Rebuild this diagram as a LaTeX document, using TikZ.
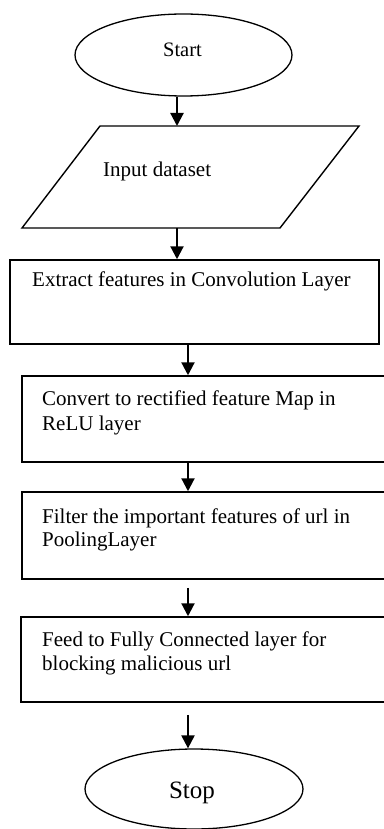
\documentclass[tikz,border=0pt]{standalone}
\usepackage{fontspec}
\setmainfont{Liberation Serif}
\usetikzlibrary{arrows.meta,shapes.geometric}

\begin{document}
\begin{tikzpicture}[x=1pt,y=-1pt,
  flowline/.style={line width=1.4pt},
  stepbox/.style={draw,rectangle,line width=1.5pt,inner sep=0pt},
  terminal/.style={draw,ellipse,line width=1.3pt,inner sep=0pt},
  arr/.style={line width=2.2pt,-{Triangle[width=13pt,length=13pt]}},
  txt/.style={inner sep=0pt,anchor=base west,font=\fontsize{21}{24.5}\selectfont},
]
\useasboundingbox (0,0) rectangle (383,829);

% terminals
\node[terminal,minimum width=217pt,minimum height=82pt] (start) at (183.5,55) {};
\node[inner sep=0pt,anchor=base,font=\fontsize{20.5}{24}\selectfont] (starttxt) at (182.5,57) {Start};

\node[terminal,minimum width=218pt,minimum height=80pt] (stop) at (194,789) {};
\node[inner sep=0pt,anchor=base,font=\fontsize{25}{28}\selectfont] (stoptxt) at (192,798) {Stop};

% input parallelogram
\coordinate (inTL) at (100,126);
\coordinate (inTR) at (359,126);
\coordinate (inBR) at (280,228);
\coordinate (inBL) at (22,228);
\draw[flowline] (inTL) -- (inTR) -- (inBR) -- (inBL) -- cycle;
\coordinate (inTop) at (177,126);
\coordinate (inBot) at (177,228);
\node[txt] (intxt) at (103,176) {Input dataset};

% process boxes
\node[stepbox,minimum width=369pt,minimum height=84pt] (b1) at (194.5,302) {};
\node[txt] (t1) at (32,286) {Extract features in Convolution Layer};

\node[stepbox,minimum width=378pt,minimum height=86pt] (b2) at (211,419) {};
\node[txt] (t2a) at (42,405) {Convert to rectified feature Map in};
\node[txt] (t2b) at (42,430) {ReLU layer};

\node[stepbox,minimum width=378pt,minimum height=87pt] (b3) at (211,535.5) {};
\node[txt] (t3a) at (42,523) {Filter the important features of url in};
\node[txt] (t3b) at (42,546) {PoolingLayer};

\node[stepbox,minimum width=379pt,minimum height=85pt] (b4) at (210.5,659.5) {};
\node[txt] (t4a) at (42,646) {Feed to Fully Connected layer for};
\node[txt] (t4b) at (42,670) {blocking malicious url};

% connectors
\coordinate (c1) at (188,0);
\draw[arr] (start.south -| inTop) -- (inTop);
\draw[arr] (inBot) -- (b1.north -| inBot);
\draw[arr] (b1.south -| c1) -- (b2.north -| c1);
\draw[arr] (b2.south -| c1) -- (b3.north -| c1);
\draw[arr,shorten <=8pt] (b3.south -| c1) -- (b4.north -| c1);
\draw[arr,shorten <=12pt] (b4.south -| c1) -- (stop.north -| c1);
\end{tikzpicture}
\end{document}
